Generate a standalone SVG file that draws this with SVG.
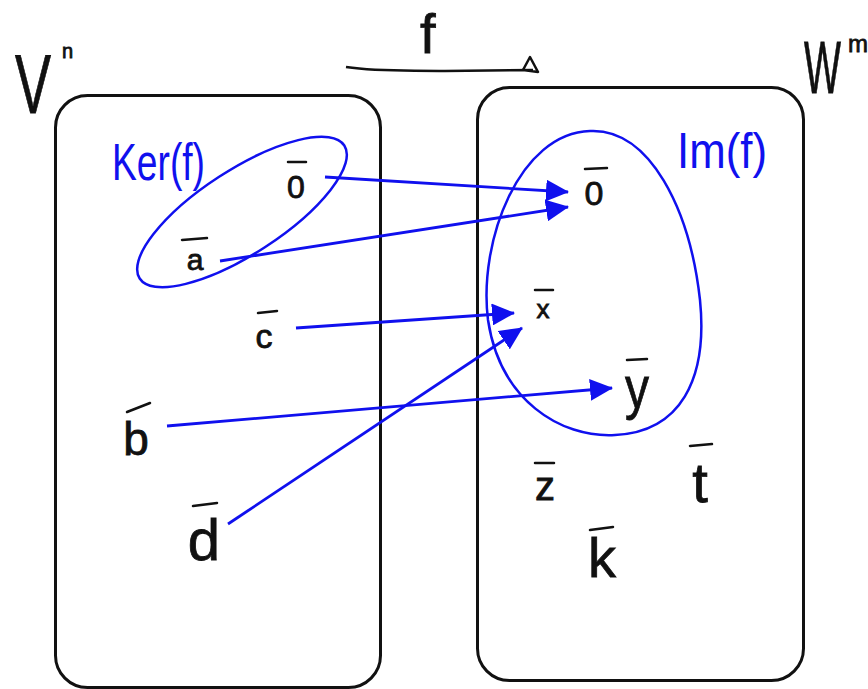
<svg xmlns="http://www.w3.org/2000/svg" width="868" height="689" viewBox="0 0 868 689">
<style>
.ink{font-family:"Liberation Sans","DejaVu Sans",sans-serif;fill:#111;stroke:#111;stroke-width:0.8;}
.blue{font-family:"Liberation Sans","DejaVu Sans",sans-serif;fill:#1010ee;}
.box{fill:none;stroke:#111;stroke-width:3;}
.bar{stroke:#111;stroke-width:2.5;stroke-linecap:round;fill:none;}
.set{fill:none;stroke:#1010ee;stroke-width:2.5;}
.edge{stroke:#1010ee;stroke-width:2.8;fill:none;marker-end:url(#ah);}
</style>
<defs>
<marker id="ah" markerUnits="userSpaceOnUse" markerWidth="24" markerHeight="22" refX="22" refY="11" orient="auto">
<path d="M0,0 L23,11 L0,22 z" fill="#1010ee"/>
</marker>
</defs>
<rect width="868" height="689" fill="#fff"/>

<g id="space-V">
<rect class="box" x="55.5" y="95.5" width="325" height="592" rx="32"/>
<text class="ink" x="15" y="113" font-size="84"><tspan textLength="36" lengthAdjust="spacingAndGlyphs">V</tspan><tspan x="62" y="58" font-size="20">n</tspan></text>
</g>

<g id="space-W">
<rect class="box" x="477.5" y="87.5" width="326" height="593" rx="32"/>
<text class="ink" x="804" y="93" font-size="74"><tspan textLength="37" lengthAdjust="spacingAndGlyphs">W</tspan><tspan x="848" y="52" font-size="24">m</tspan></text>
</g>

<g id="map-f">
<text class="ink" x="420" y="53" font-size="56">f</text>
<path d="M346,67 C 380,72 410,70 445,71 L 533,70 M523,70 L530,57 L538,72 L523,70" fill="none" stroke="#111" stroke-width="2.5" stroke-linejoin="round"/>
</g>

<g id="ker">
<ellipse class="set" cx="242" cy="212" rx="122" ry="42" transform="rotate(-33 242 212)"/>
<text class="blue" x="112" y="180" font-size="52" textLength="93" lengthAdjust="spacingAndGlyphs">Ker(f)</text>
</g>

<g id="im">
<path class="set" d="M590,131 C 650,128 690,210 700,300 C 708,380 680,432 615,435 C 560,438 500,400 488,320 C 478,240 520,133 590,131 Z"/>
<text class="blue" x="677" y="168" font-size="50" textLength="90" lengthAdjust="spacingAndGlyphs">Im(f)</text>
</g>

<g id="v-zero">
<text class="ink" x="296" y="198" font-size="32" text-anchor="middle">0</text>
<line class="bar" x1="288" y1="162" x2="306" y2="162"/>
</g>
<g id="v-a">
<text class="ink" x="195" y="270" font-size="30" text-anchor="middle">a</text>
<line class="bar" x1="182" y1="240" x2="207" y2="238"/>
</g>
<g id="v-c">
<text class="ink" x="264" y="348" font-size="34" text-anchor="middle">c</text>
<line class="bar" x1="258" y1="313" x2="277" y2="311"/>
</g>
<g id="v-b">
<text class="ink" x="136" y="455" font-size="46" text-anchor="middle">b</text>
<line class="bar" x1="127" y1="412" x2="150" y2="403"/>
</g>
<g id="v-d">
<text class="ink" x="204" y="560" font-size="58" text-anchor="middle">d</text>
<line class="bar" x1="193" y1="506" x2="217" y2="503"/>
</g>

<g id="w-zero">
<text class="ink" x="594" y="205" font-size="34" text-anchor="middle">0</text>
<line class="bar" x1="585" y1="169" x2="607" y2="168"/>
</g>
<g id="w-x">
<text class="ink" x="543" y="318" font-size="26" text-anchor="middle">x</text>
<line class="bar" x1="535" y1="290" x2="553" y2="290"/>
</g>
<g id="w-y">
<text class="ink" x="637" y="408" font-size="60" text-anchor="middle" textLength="24" lengthAdjust="spacingAndGlyphs">y</text>
<line class="bar" x1="627" y1="360" x2="647" y2="359"/>
</g>
<g id="w-z">
<text class="ink" x="545" y="500" font-size="40" text-anchor="middle">z</text>
<line class="bar" x1="535" y1="463" x2="554" y2="463"/>
</g>
<g id="w-t">
<text class="ink" x="700" y="502" font-size="56" text-anchor="middle">t</text>
<line class="bar" x1="690" y1="446" x2="712" y2="444"/>
</g>
<g id="w-k">
<text class="ink" x="602" y="577" font-size="56" text-anchor="middle">k</text>
<line class="bar" x1="590" y1="530" x2="613" y2="527"/>
</g>

<g id="connectors">
<line class="edge" x1="325" y1="177" x2="568" y2="192"/>
<line class="edge" x1="220" y1="261" x2="568" y2="207"/>
<line class="edge" x1="296" y1="328" x2="514" y2="313"/>
<line class="edge" x1="228" y1="524" x2="522" y2="328"/>
<line class="edge" x1="167" y1="426" x2="612" y2="388"/>
</g>
</svg>
